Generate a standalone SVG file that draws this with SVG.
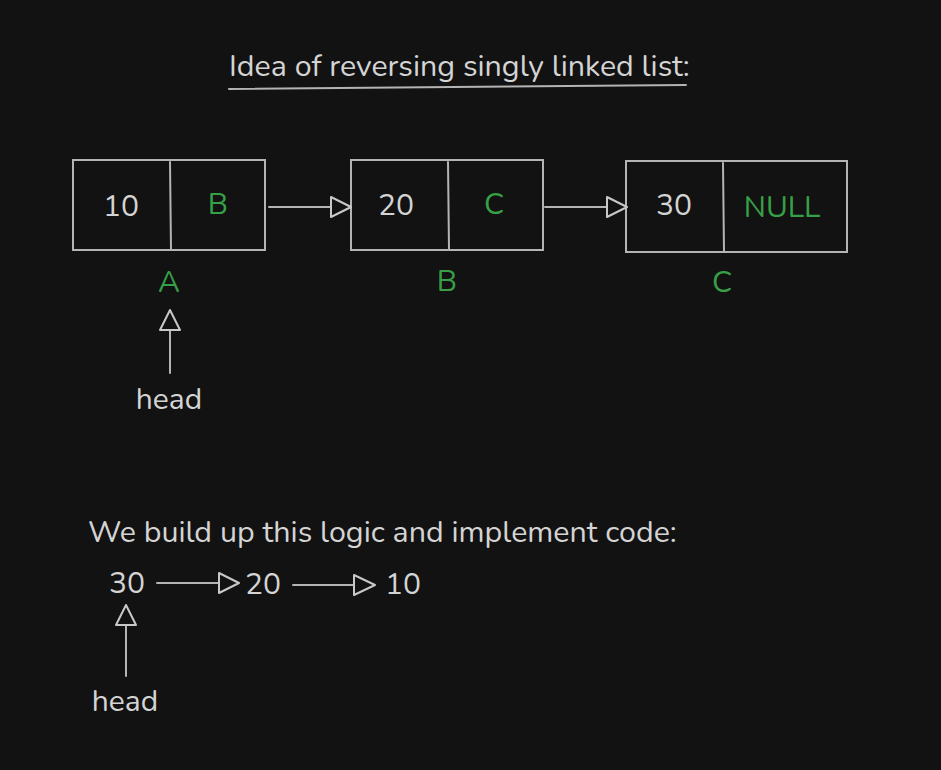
<svg xmlns="http://www.w3.org/2000/svg" width="941" height="770" viewBox="0 0 941 770">
<style>
.t{font-family:"Nunito","Lato","Noto Sans",sans-serif;font-size:30px;fill:#d4d4d4}
.w{font-size:30.4px}
.g{fill:#37a047}
.c{text-anchor:middle;dominant-baseline:central}
.box{fill:none;stroke:#b4b4b4;stroke-width:2}
.ln{fill:none;stroke:#b4b4b4;stroke-width:2;stroke-linecap:round}
.hd{fill:none;stroke:#c8c8c8;stroke-width:2;stroke-linejoin:round}
</style>
<rect width="941" height="770" fill="#121212"/>
<g id="title">
<text class="t w" x="229" y="76">Idea of reversing singly linked list:</text>
<path class="ln" d="M229 89 L686 85"/>
</g>
<g id="nodeA">
<rect class="box" x="73" y="160" width="192" height="90"/>
<path class="ln" d="M170 162 L171 250"/>
<text class="t c" x="121" y="206">10</text>
<text class="t g c" x="218" y="204">B</text>
<text class="t g c" x="169" y="282">A</text>
</g>
<g id="nodeB">
<rect class="box" x="351" y="160" width="192" height="90"/>
<path class="ln" d="M448 162 L449 250"/>
<text class="t c" x="396" y="205">20</text>
<text class="t g c" x="494" y="204">C</text>
<text class="t g c" x="447" y="281">B</text>
</g>
<g id="nodeC">
<rect class="box" x="626" y="161" width="221" height="91"/>
<path class="ln" d="M723 163 L724 252"/>
<text class="t c" x="674" y="205">30</text>
<text class="t g c" x="782" y="207">NULL</text>
<text class="t g c" x="722" y="282">C</text>
</g>
<g id="head1">
<text class="t c" x="169" y="399">head</text>
</g>
<g id="caption">
<text class="t w" x="88" y="542">We build up this logic and implement code:</text>
</g>
<g id="rev">
<text class="t c" x="127" y="583">30</text>
<text class="t c" x="263" y="584">20</text>
<text class="t c" x="403" y="584">10</text>
</g>
<g id="head2">
<text class="t c" x="125" y="701">head</text>
</g>
<g id="connectors">
<path class="ln" d="M269 207 L331 207"/>
<path class="hd" d="M331 197 L351 207 L331 217 Z"/>
<path class="ln" d="M545 207 L607 207"/>
<path class="hd" d="M607 197 L627 207 L607 217 Z"/>
<path class="ln" d="M170 373 L170 330"/>
<path class="hd" d="M160 330 L170 310 L180 330 Z"/>
<path class="ln" d="M157 583 L219 583"/>
<path class="hd" d="M219 573 L239 583 L219 593 Z"/>
<path class="ln" d="M293 585 L354 585"/>
<path class="hd" d="M354 575 L375 585 L354 595 Z"/>
<path class="ln" d="M126 676 L126 625"/>
<path class="hd" d="M116 625 L126 605 L136 625 Z"/>
</g>
</svg>
